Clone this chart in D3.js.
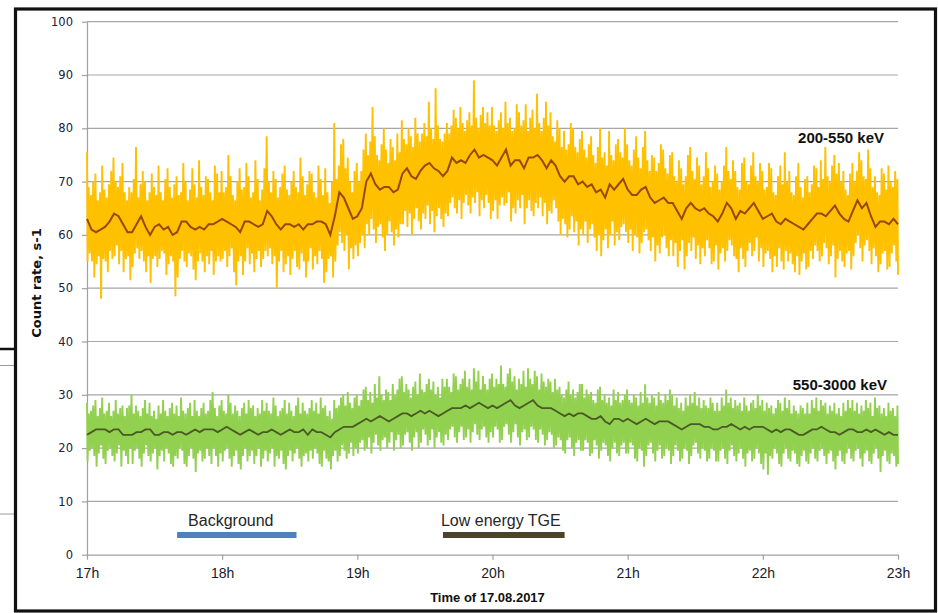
<!DOCTYPE html>
<html>
<head>
<meta charset="utf-8">
<script src="https://cdn.jsdelivr.net/npm/d3@7/dist/d3.min.js"></script>
<style>
  html, body { margin: 0; padding: 0; background: #ffffff; }
  svg { display: block; }
</style>
</head>
<body>
<svg id="chart" width="938" height="613"></svg>
<script>
// Count rates from 17:00 to 23:00 on 17.08.2017.
// Raw readings: highest and lowest value in each 1-minute bin (361 bins, 20 per row).
// Running mean: one value per 2-minute bin (181 bins, 10 per row).

const yellowHigh = [
  75.5, 69, 67.5, 70, 71.5, 66.5, 68, 73, 68.5, 67, 69.5, 72, 74.5, 70, 69, 71, 73.5, 68, 66.5, 69,
  68, 70.5, 76.5, 67, 69.5, 72, 70, 66.5, 68, 71.5, 69, 67.5, 73, 68, 66.5, 70.5, 72.5, 69, 67, 69.5,
  71, 67.5, 68, 73.5, 70, 66.5, 68.5, 72.5, 69.5, 67, 74, 69, 67.5, 71, 70.5, 68, 66.5, 73, 71.5, 68,
  72, 68, 69, 75, 71, 67.5, 66.5, 70, 72.5, 68.5, 69, 73.5, 71, 67, 68, 74, 70.5, 66.5, 68.5, 72.5,
  78.5, 70, 68, 72, 70.5, 67, 69, 71.5, 73, 68.5, 67.5, 70, 72, 69, 68, 74.5, 71, 67.5, 69.5, 72,
  71.5, 68, 67, 73, 70.5, 67.5, 72.5, 68, 66, 70, 81, 70.5, 73, 77, 78, 72.5, 74.5, 70, 68, 72,
  73.5, 70, 72, 76, 79, 75, 77.5, 84, 78.5, 75, 74, 77, 80, 76, 73.5, 78, 76.5, 74, 79, 75.5,
  81.5, 78, 77, 80, 78.5, 76.5, 82, 79, 77.5, 79, 81, 78.5, 85, 80, 78, 87.5, 80.5, 78, 77.5, 79,
  81, 79, 80.5, 83.5, 82, 80, 84, 81, 79.5, 81.5, 83, 80.5, 89, 82, 80, 82.5, 84, 81, 83, 80.5,
  84, 80.5, 79.5, 81.5, 83, 80, 85, 81, 82, 79.5, 80, 84.5, 83, 80.5, 81.5, 84.5, 79.5, 82, 83.5, 80,
  86.5, 81, 79.5, 82, 85, 80.5, 83, 78.5, 77.5, 81.5, 80, 76.5, 79.5, 76, 77, 81, 80, 76.5, 75.5, 78,
  79.5, 76, 74.5, 77, 78.5, 75, 73.5, 76.5, 80, 74.5, 75.5, 73, 79.5, 75, 74, 77, 78, 75.5, 74.5, 80,
  77, 74, 73, 76, 78.5, 74.5, 72.5, 76.5, 79.5, 74, 72, 75, 74.5, 72, 73.5, 77, 76, 72.5, 71.5, 75,
  75.5, 71, 70, 74, 72.5, 69.5, 71, 75, 76.5, 72, 70.5, 74.5, 73, 69.5, 71, 75.5, 72.5, 69, 70, 73,
  71.5, 68.5, 70, 73, 76.5, 72, 70.5, 74, 72, 69, 68.5, 73.5, 74.5, 70, 69.5, 73, 75.5, 71, 70, 73.5,
  72, 68.5, 69, 73.5, 72.5, 68, 67.5, 71, 73, 69.5, 75.5, 70, 72, 68, 67.5, 71, 73.5, 69, 67, 70.5,
  71, 68, 69.5, 73, 72.5, 69, 74, 70.5, 76.5, 71, 70, 73, 75, 71.5, 73.5, 70, 72, 68.5, 67.5, 71.5,
  73.5, 70, 72, 75.5, 74, 71, 70.5, 76, 72.5, 69, 71, 68, 67.5, 72.5, 71.5, 68.5, 73, 70, 69, 72,
  70.5
];

const yellowLow = [
  55, 56.5, 55, 52, 54.5, 56, 48, 55.5, 55, 53, 57, 55.5, 56, 58, 54.5, 57, 53, 55.5, 56, 51.5,
  54, 56.5, 57.5, 55.5, 57, 55, 53, 56, 51, 55.5, 56, 54, 55.5, 57, 56.5, 52.5, 54.5, 56, 55, 48.5,
  52, 55.5, 57, 55, 54, 56.5, 56, 53.5, 51.5, 55, 56.5, 55, 53, 56, 54.5, 57, 52.5, 55, 56, 55,
  55.5, 57, 54, 56, 57.5, 53, 50.5, 55, 56, 52.5, 55, 57.5, 54.5, 56.5, 53, 55.5, 57, 54, 55.5, 57,
  56, 57.5, 54.5, 56, 50, 55, 57, 53, 54.5, 56, 52.5, 55.5, 57, 54, 53.5, 56.5, 55, 52, 55, 57.5,
  53.5, 56, 54.5, 57, 55.5, 51, 53, 55.5, 56, 52, 55, 58, 60.5, 58.5, 57, 60, 53.5, 57.5, 55.5, 58,
  56, 58.5, 60, 57.5, 62, 60, 63, 61, 58.5, 61.5, 62, 59.5, 57, 60, 62.5, 60.5, 58, 61, 59.5, 62,
  62, 64.5, 61.5, 64, 60, 63, 65, 62.5, 61, 64, 63, 65.5, 62, 64.5, 60.5, 63.5, 65, 63, 61.5, 64,
  63.5, 66, 67, 65, 64, 66.5, 63, 66, 67.5, 65.5, 64, 67, 66, 68, 63.5, 66.5, 65, 67.5, 66, 63,
  64.5, 66.5, 63, 65.5, 67, 65.5, 66, 68, 62.5, 65, 64, 66.5, 65, 67.5, 62, 65, 66.5, 64.5, 63.5, 66,
  65, 67, 63.5, 66, 62, 64.5, 64, 66.5, 65, 62.5, 60, 63, 62, 59.5, 61, 63.5, 60.5, 62.5, 58, 61,
  60, 62.5, 58.5, 61, 62, 59.5, 57, 60, 56, 59, 61, 57.5, 60, 62.5, 58, 60.5, 59, 61.5, 62, 60.5,
  58.5, 61, 57, 60, 59.5, 56.5, 58.5, 60.5, 61, 59, 57, 59.5, 55, 58, 56.5, 59.5, 60, 57.5, 56, 59,
  56, 58.5, 54, 57, 59, 53.5, 56, 58.5, 57, 59.5, 55.5, 58, 54.5, 57.5, 56, 59, 57.5, 54.5, 55, 58,
  53.5, 56.5, 57.5, 55, 57, 59, 58, 56, 55.5, 53, 57.5, 55.5, 54, 57, 58.5, 56, 57, 59.5, 55, 57.5,
  54, 56.5, 57, 55.5, 53, 56, 54, 57.5, 55, 53.5, 57, 55, 56.5, 54.5, 53, 56, 52.5, 55, 56.5, 53.5,
  54, 57, 55.5, 58, 57, 55, 56, 58.5, 57.5, 54.5, 56, 58, 52, 55.5, 57, 55, 54, 56.5, 57, 53.5,
  56, 58.5, 60, 57.5, 55, 58, 59, 57, 54.5, 57.5, 56, 53, 54.5, 56.5, 57, 53.5, 54, 56.5, 58, 55,
  52.5
];

const yellowMean = [
  63, 61, 60.5, 61, 61.5, 62.5, 64, 63.5, 62, 60.5,
  60.5, 62, 63.5, 61.5, 60, 61.5, 62, 61, 61.5, 60,
  60.5, 62.5, 62.5, 61.5, 61, 61.5, 61, 62, 62, 62.5,
  63, 62.5, 62, 61.5, 60.5, 62.5, 62.5, 62, 61.5, 62,
  64.5, 63.5, 62, 61, 62, 62, 61.5, 62, 61, 62,
  62, 62.5, 62.5, 62, 60, 63.5, 68, 67, 65, 63,
  63.5, 65, 70, 71.5, 69.5, 68.5, 69, 69, 68, 68.5,
  71.5, 72.5, 71, 70.5, 72, 73, 73.5, 72.5, 72, 71,
  72, 74.5, 73.5, 74, 73.5, 75, 76, 74.5, 75, 74.5,
  74, 73, 74.5, 76, 73, 74, 74, 72.5, 74.5, 74.5,
  75, 74, 72.5, 74, 73, 71, 70, 71, 71, 69.5,
  70, 69, 69.5, 68, 68.5, 67, 69.5, 68.5, 69.5, 70.5,
  68.5, 67.5, 67.5, 68.5, 69, 67, 66, 66.5, 67, 66,
  66, 64.5, 63, 65, 66, 65, 64.5, 65, 64, 63.5,
  62.5, 64, 66, 65, 63, 64.5, 64, 65, 66, 64.5,
  63, 63.5, 64, 62.5, 62, 63, 62.5, 62, 61.5, 61,
  62, 63, 64, 64, 63.5, 64.5, 65.5, 64, 63, 62.5,
  64.5, 66.5, 65, 66, 63.5, 61.5, 62.5, 62.5, 62, 63, 62
];

const greenHigh = [
  28.5, 26.5, 27, 28, 29, 26, 27.5, 29.5, 26.5, 27, 28.5, 26, 27, 29, 26.5, 27.5, 28, 26, 27.5, 28,
  30, 26.5, 28, 27, 26, 27.5, 29, 26.5, 28.5, 26, 27, 25.5, 28, 26.5, 29, 27, 26, 27.5, 28.5, 26.5,
  28, 26, 29.5, 27, 26.5, 27.5, 28.5, 26, 29, 27, 26, 27.5, 28.5, 26.5, 27, 29, 30.5, 27.5, 26, 28,
  29, 27, 26.5, 30, 28.5, 26.5, 28, 27, 26, 27.5, 28.5, 26.5, 29, 27.5, 28, 26, 27.5, 26.5, 29, 27,
  28.5, 27, 26.5, 29.5, 28, 26, 27, 27.5, 29, 26.5, 28.5, 27, 26, 28, 29.5, 26.5, 28.5, 27, 26.5, 27.5,
  29, 27, 28.5, 26.5, 29.5, 27.5, 28, 26, 27, 25.5, 29, 27.5, 28, 29.5, 30, 28, 30.5, 28.5, 27.5, 29.5,
  30, 28, 29, 31, 31.5, 29, 30.5, 28.5, 32, 29.5, 33.5, 30, 29, 31, 30.5, 29, 32, 30, 31, 33,
  33.5, 30.5, 32, 31, 29.5, 31.5, 32.5, 30, 34, 31, 30.5, 32, 33, 31, 32.5, 30, 31.5, 29.5, 33, 31.5,
  33, 31.5, 30.5, 34, 33.5, 31, 32, 33, 34.5, 31.5, 33, 31, 35, 32.5, 34.5, 31, 33.5, 32, 31, 33,
  34, 31.5, 33, 32, 35.5, 32, 31.5, 34, 35, 32.5, 33.5, 31, 33, 32, 34.5, 31.5, 35, 33, 32, 34.5,
  33.5, 31, 34, 32.5, 31.5, 33, 32.5, 30.5, 33, 31, 31.5, 30, 29.5, 31, 32.5, 30, 31, 29.5, 30.5, 32,
  32, 29.5, 31, 30, 30.5, 29, 28.5, 31, 31.5, 29, 30, 28.5, 29.5, 28, 31, 29, 30.5, 28.5, 29, 30,
  31, 29, 28.5, 30, 29.5, 28, 30.5, 28.5, 32, 29.5, 28.5, 30, 29.5, 28, 30.5, 29, 28.5, 30, 29, 31,
  30, 28, 29.5, 27.5, 28.5, 27, 29.5, 28, 30, 28.5, 30.5, 28, 29.5, 27.5, 29, 28, 27.5, 29.5, 28.5, 27,
  28.5, 27, 29.5, 28, 31, 28.5, 29.5, 27.5, 29, 28, 28.5, 27, 29.5, 28, 27, 28.5, 29, 27.5, 30, 28,
  29, 27, 28.5, 27.5, 28, 26.5, 27.5, 29, 28.5, 27, 29.5, 27.5, 29, 26.5, 28, 27, 26.5, 28, 27.5, 26.5,
  28.5, 26.5, 29, 27.5, 29.5, 27, 29, 28, 28.5, 26.5, 28, 27, 28.5, 26.5, 27.5, 26, 28.5, 27, 29, 27.5,
  29, 27, 28.5, 26.5, 28, 27, 29, 27.5, 28.5, 26, 29.5, 27.5, 28, 26.5, 27.5, 26, 28.5, 27, 27.5, 26,
  28
];

const greenLow = [
  17.5, 19.5, 20, 18.5, 16.5, 19, 20.5, 18, 17, 19.5, 20, 18.5, 17.5, 19, 20.5, 16.5, 19.5, 18.5, 17, 20,
  17, 19.5, 20, 18, 16.5, 19, 20.5, 18.5, 17.5, 19, 20, 16, 18.5, 19.5, 17.5, 20, 19, 17, 16.5, 18.5,
  18, 20, 19.5, 17, 16.5, 18.5, 20, 18, 15.5, 19, 19.5, 17.5, 18, 20, 18.5, 17, 20, 18.5, 16.5, 19,
  17.5, 19.5, 20, 18, 16.5, 18.5, 19.5, 17, 16, 18.5, 20, 17.5, 18.5, 19.5, 17, 18.5, 20, 16.5, 18, 19.5,
  17.5, 19, 20, 16.5, 18.5, 18, 19.5, 17, 16, 18.5, 19.5, 17.5, 19, 20, 18, 16.5, 18.5, 19, 17.5, 19.5,
  18, 20, 19, 17, 16.5, 19.5, 18, 17.5, 16, 18.5, 19.5, 17.5, 18.5, 20.5, 19.5, 18, 19, 21, 18.5, 20,
  19, 21, 21.5, 19.5, 20, 22, 19, 21, 22.5, 20.5, 19.5, 21.5, 22, 20, 21, 23, 19.5, 21.5, 22.5, 20,
  20.5, 22.5, 23, 21, 19.5, 22, 23, 20, 21, 23.5, 22.5, 20.5, 21.5, 23.5, 20, 22, 23, 21, 20.5, 22.5,
  21.5, 23.5, 24, 22, 21, 23, 24, 21.5, 22, 23.5, 21, 23, 24.5, 22.5, 21.5, 23.5, 24, 22, 21, 23,
  22, 24, 23.5, 21, 21.5, 24, 24.5, 22.5, 21, 23, 24.5, 22, 20.5, 23, 23.5, 21.5, 22, 24, 23.5, 21.5,
  21, 23.5, 22.5, 20.5, 21.5, 23, 22.5, 20, 20.5, 22, 21.5, 19.5, 19, 21.5, 22, 20, 18.5, 21, 21.5, 19.5,
  19.5, 21.5, 21, 18.5, 19, 21.5, 20.5, 18, 19.5, 21, 20.5, 18.5, 17.5, 20, 21, 19, 18.5, 20.5, 21, 19,
  19, 21, 20.5, 18, 17.5, 20, 19.5, 16.5, 18.5, 20.5, 21, 19, 17.5, 19.5, 20.5, 18, 18.5, 20, 19.5, 17,
  18.5, 20.5, 19.5, 17.5, 18, 20, 19.5, 17, 18.5, 20.5, 21, 19, 18, 20, 19.5, 17.5, 18, 20, 19.5, 17.5,
  17.5, 19.5, 20, 18, 17, 19.5, 20.5, 18.5, 17.5, 19, 20, 18, 16.5, 19, 19.5, 17.5, 18, 20, 19, 17,
  16, 19, 15, 18.5, 18, 20, 19, 17, 16.5, 19, 20, 18, 17.5, 19.5, 19, 17, 16.5, 18.5, 19.5, 17.5,
  17, 19, 20, 18, 17.5, 19.5, 20, 18.5, 17, 19, 19.5, 17.5, 16, 18.5, 19.5, 17.5, 17, 19, 20, 18,
  17.5, 19.5, 20, 18, 16.5, 19, 19.5, 17.5, 17, 19, 20, 18, 15.5, 18.5, 19.5, 17.5, 17, 19, 18.5, 16.5,
  17
];

const greenMean = [
  22.5, 23, 23.5, 23.5, 23.5, 23, 23.5, 23.5, 22.5, 22.5,
  22.5, 23, 23, 23.5, 23.5, 22.5, 22.5, 23, 23, 22.5,
  23, 23, 22.5, 23, 23.5, 23, 23.5, 23.5, 23.5, 23,
  23.5, 24, 23.5, 23, 22.5, 23, 23.5, 23, 22.5, 23,
  23, 23.5, 23, 22.5, 23, 23.5, 23, 23, 23.5, 22.5,
  23.5, 23, 23, 22.5, 22, 23, 23.5, 24, 24, 24,
  24.5, 25, 25.5, 25, 25.5, 26, 25.5, 25, 25.5, 26,
  26.5, 26.5, 26, 26.5, 27, 26.5, 27, 26.5, 26, 26.5,
  27, 27.5, 27.5, 27.5, 28, 27.5, 28, 28.5, 28, 27.5,
  28, 27.5, 28, 28.5, 29, 28, 27.5, 28, 28.5, 29,
  28, 27.5, 27.5, 27.5, 27, 26.5, 26, 26.5, 26, 26.5,
  26.5, 26, 25.5, 25.5, 26, 25, 24.5, 25.5, 25.5, 25,
  25.5, 25, 24.5, 25, 25.5, 25, 24.5, 25, 25, 25,
  24.5, 24, 23.5, 24, 24.5, 24.5, 24.5, 24, 24, 23.5,
  23.5, 24, 24, 24.5, 24, 23.5, 24, 23.5, 24, 24,
  24, 23.5, 23, 23.5, 23, 23.5, 23.5, 23, 22.5, 22.5,
  23, 23.5, 23.5, 24, 23.5, 23, 23, 22.5, 23, 23.5,
  23.5, 23, 23, 23.5, 23, 23.5, 23, 22.5, 23, 22.5, 22.5
];

const yTicks = [0, 10, 20, 30, 40, 50, 60, 70, 80, 90, 100];
const seriesNames = ["200-550 keV", "550-3000 keV"];
const periodNames = ["Background", "Low energy TGE"];
// Marked periods, as [start, end] clock times (hours, minutes)
const periodSpans = [[[17, 40], [18, 33]], [[19, 38], [20, 32]]];

const startTime = new Date(2017, 7, 17, 17, 0);
const endTime = new Date(2017, 7, 17, 23, 0);
const rawStep = 1;   // minutes per raw bin
const meanStep = 2;  // minutes per mean bin

const svg = d3.select("#chart");
const W = 938, H = 613;
const plot = { left: 87, right: 898, top: 21.7, bottom: 554.7 };

const x = d3.scaleTime().domain([startTime, endTime]).range([plot.left, plot.right]);
const y = d3.scaleLinear().domain([0, 100]).range([plot.bottom, plot.top]);

const atMinute = m => new Date(startTime.getTime() + Math.max(0, Math.min(360, m)) * 60000);
const atClock = (h, m) => new Date(2017, 7, 17, h, m);

// Background, plus leftover rules at the left page edge
svg.append("rect").attr("x", 0).attr("y", 0).attr("width", W).attr("height", H).attr("fill", "#fff");
svg.append("line").attr("x1", 0).attr("x2", 15).attr("y1", 349).attr("y2", 349)
  .attr("stroke", "#111").attr("stroke-width", 2.5);
svg.append("line").attr("x1", 0).attr("x2", 15).attr("y1", 365.5).attr("y2", 365.5)
  .attr("stroke", "#9a9a9a").attr("stroke-width", 1);
svg.append("line").attr("x1", 0).attr("x2", 15).attr("y1", 514).attr("y2", 514)
  .attr("stroke", "#9a9a9a").attr("stroke-width", 1);

// Horizontal gridlines
svg.append("g").selectAll("line").data(yTicks.filter(d => d > 0)).join("line")
  .attr("x1", plot.left).attr("x2", plot.right)
  .attr("y1", d => y(d)).attr("y2", d => y(d))
  .attr("stroke", "#a6a6a6").attr("stroke-width", 1.2);

// Y axis
const yAxis = svg.append("g").attr("transform", `translate(${plot.left},0)`)
  .call(d3.axisLeft(y).tickValues(yTicks).tickSize(5).tickPadding(9).tickSizeOuter(0));
yAxis.select(".domain").attr("stroke", "#a0a0a0").attr("stroke-width", 1.2);
yAxis.selectAll(".tick line").attr("stroke", "#a0a0a0").attr("stroke-width", 1.2);
yAxis.selectAll(".tick text")
  .attr("font-family", "DejaVu Sans, Verdana, sans-serif").attr("font-size", 11.5)
  .attr("fill", "#202040");

// Raw trace: the high and low of each bin, joined in time order
function rawPoints(high, low) {
  const pts = [];
  high.forEach((h, i) => {
    pts.push([atMinute(i * rawStep - 0.25), h]);
    pts.push([atMinute(i * rawStep + 0.25), low[i]]);
  });
  return pts;
}
const rawLine = d3.line().x(d => x(d[0])).y(d => y(d[1]));
const meanLine = d3.line().x((d, i) => x(atMinute(i * meanStep))).y(d => y(d));

const data = svg.append("g");
data.append("path").datum(rawPoints(yellowHigh, yellowLow)).attr("d", rawLine)
  .attr("fill", "none").attr("stroke", "#ffc000").attr("stroke-width", 1.9)
  .attr("stroke-linejoin", "bevel");
data.append("path").datum(yellowMean).attr("d", meanLine)
  .attr("fill", "none").attr("stroke", "#984807").attr("stroke-width", 2);
data.append("path").datum(rawPoints(greenHigh, greenLow)).attr("d", rawLine)
  .attr("fill", "none").attr("stroke", "#92d050").attr("stroke-width", 1.9)
  .attr("stroke-linejoin", "bevel");
data.append("path").datum(greenMean).attr("d", meanLine)
  .attr("fill", "none").attr("stroke", "#4a5a24").attr("stroke-width", 1.8);

// X axis
const xAxis = svg.append("g").attr("transform", `translate(0,${plot.bottom})`)
  .call(d3.axisBottom(x).ticks(d3.timeHour.every(1)).tickFormat(d3.timeFormat("%-Hh"))
    .tickSize(5).tickPadding(8).tickSizeOuter(0));
xAxis.select(".domain").attr("stroke", "#a0a0a0").attr("stroke-width", 1.2);
xAxis.selectAll(".tick line").attr("stroke", "#a0a0a0").attr("stroke-width", 1.2);
xAxis.selectAll(".tick text")
  .attr("font-family", "Liberation Sans, Arial, sans-serif").attr("font-size", 14)
  .attr("fill", "#1a1a2a");

// Series labels
svg.append("text").attr("x", 884).attr("y", 142.5).attr("text-anchor", "end")
  .attr("font-family", "Liberation Sans, Arial, sans-serif").attr("font-weight", "bold")
  .attr("font-size", 15).attr("fill", "#111").text(seriesNames[0]);
svg.append("text").attr("x", 887).attr("y", 390).attr("text-anchor", "end")
  .attr("font-family", "Liberation Sans, Arial, sans-serif").attr("font-weight", "bold")
  .attr("font-size", 15).attr("fill", "#111").text(seriesNames[1]);

// Period markers
const periodColors = ["#4f81bd", "#4a452a"];
periodSpans.forEach((span, k) => {
  const x0 = x(atClock(span[0][0], span[0][1]));
  const x1 = x(atClock(span[1][0], span[1][1]));
  svg.append("rect").attr("x", x0).attr("y", 532).attr("width", x1 - x0).attr("height", 6)
    .attr("fill", periodColors[k]);
  svg.append("text").attr("x", x0 + (k === 0 ? 11 : -2)).attr("y", 526)
    .attr("font-family", "Liberation Sans, Arial, sans-serif").attr("font-size", 16)
    .attr("fill", "#262626").text(periodNames[k]);
});

// Axis titles
svg.append("text").attr("x", (plot.left + plot.right) / 2 - 5).attr("y", 602)
  .attr("text-anchor", "middle").attr("font-family", "Liberation Sans, Arial, sans-serif")
  .attr("font-weight", "bold").attr("font-size", 13).attr("fill", "#111")
  .text("Time of 17.08.2017");
svg.append("text").attr("transform", "translate(41,283) rotate(-90)")
  .attr("text-anchor", "middle").attr("font-family", "DejaVu Sans, Verdana, sans-serif")
  .attr("font-weight", "bold").attr("font-size", 13).attr("fill", "#111")
  .text("Count rate, s-1");

// Figure frame
svg.append("rect").attr("x", 15.5).attr("y", 9).attr("width", 920).attr("height", 602)
  .attr("fill", "none").attr("stroke", "#111").attr("stroke-width", 3.2);
</script>
</body>
</html>
